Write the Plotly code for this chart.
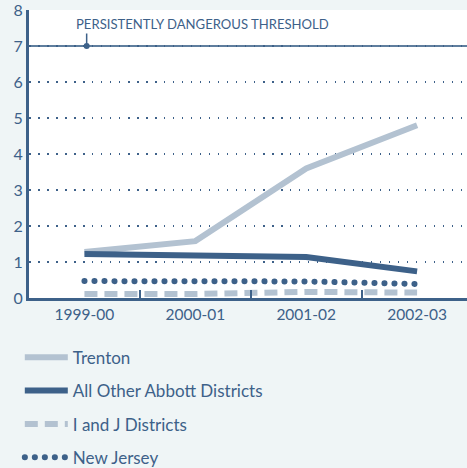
import plotly.graph_objects as go

categories = ["1999-00", "2000-01", "2001-02", "2002-03"]
trenton = [1.28, 1.58, 3.6, 4.8]
abbott = [1.22, 1.18, 1.14, 0.74]
ij = [0.11, 0.11, 0.17, 0.15]
nj = [0.47, 0.46, 0.46, 0.39]
threshold = 7
threshold_label = "PERSISTENTLY DANGEROUS THRESHOLD"
y_ticks = [0, 1, 2, 3, 4, 5, 6, 7, 8]

DARK = "#3d6189"
LIGHT = "#b3c2d1"
FONT = "Lato"

fig = go.Figure()
fig.add_trace(go.Scatter(x=categories, y=trenton, name="Trenton", mode="lines",
                         line=dict(color=LIGHT, width=6), legendgroup="a"))
fig.add_trace(go.Scatter(x=categories, y=abbott, name="All Other Abbott Districts", mode="lines",
                         line=dict(color=DARK, width=6), legendgroup="b"))
fig.add_trace(go.Scatter(x=categories, y=ij, name="I and J Districts", mode="lines",
                         line=dict(color=LIGHT, width=6, dash="13px,7px"), legendgroup="c"))
fig.add_trace(go.Scatter(x=categories, y=nj, name="New Jersey", mode="lines",
                         line=dict(color=DARK, width=6, dash="0.1px,9.9px"), legendgroup="d"))

fig.add_shape(type="line", xref="paper", x0=0, x1=1, yref="y", y0=threshold, y1=threshold,
              line=dict(color="#5f7e9e", width=2), layer="below")
fig.add_annotation(x=-0.09, y=7.62, xref="x", yref="y", text=threshold_label, showarrow=False,
                   xanchor="left", yanchor="middle", font=dict(family=FONT, size=13.1, color=DARK))
fig.add_annotation(x=0.02, y=threshold, xref="x", yref="y", text="", showarrow=True,
                   ax=0, ay=-14, arrowhead=6, arrowsize=1, arrowwidth=1.5, arrowcolor=DARK)

fig.update_layout(
    width=467, height=468,
    paper_bgcolor="#eff5f6", plot_bgcolor="#ffffff",
    margin=dict(l=29, r=0, t=10, b=170, autoexpand=False),
    font=dict(family=FONT, color=DARK, size=14),
    xaxis=dict(type="category", range=[-0.5, 3.45], showgrid=False,
               showline=True, linecolor=DARK, linewidth=3,
               ticks="inside", tickson="boundaries", ticklen=8, tickwidth=2, tickcolor=DARK,
               tickfont=dict(size=15.5, color=DARK), fixedrange=True, automargin=False),
    yaxis=dict(range=[0, 8], tickvals=y_ticks, showgrid=True, gridcolor=DARK, gridwidth=1.5,
               griddash="1.5px,7.5px", zeroline=False, showline=True, linecolor=DARK, linewidth=3,
               ticks="", tickfont=dict(size=16, color=DARK), fixedrange=True, automargin=False,
               ticklabeloverflow="allow"),
    showlegend=True,
    legend=dict(x=-0.021, y=-0.145, xanchor="left", yanchor="top", orientation="v",
                traceorder="grouped", tracegroupgap=8.2, itemwidth=43,
                bgcolor="rgba(0,0,0,0)", font=dict(family=FONT, size=17, color=DARK)),
)

post = """
document.body.style.margin = '0';
document.documentElement.style.background = '#eff5f6';
document.body.style.background = '#eff5f6';
document.querySelectorAll('path').forEach(function(p){
  var d = p.style.strokeDasharray || '';
  if (d.indexOf('0.1px') === 0) { p.style.strokeLinecap = 'round'; }
});
"""
fig.write_html("out.html", post_script=post, config={"displayModeBar": False})
